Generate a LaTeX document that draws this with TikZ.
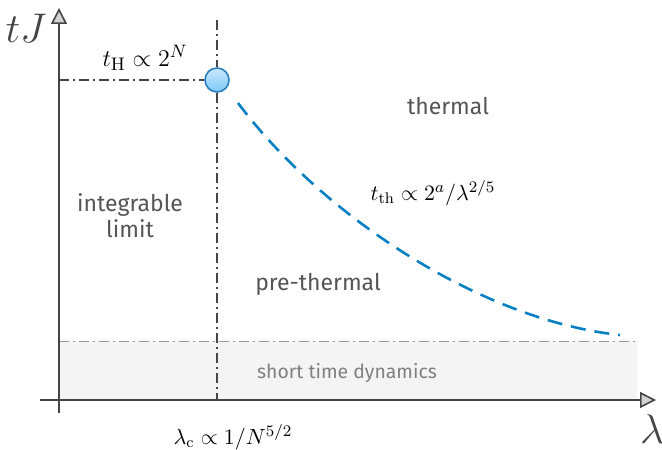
\documentclass[tikz,border=0pt]{standalone}
\usepackage{fontspec}
\setsansfont{Fira Sans}
\usetikzlibrary{arrows.meta}
\definecolor{axisgray}{HTML}{454545}
\definecolor{textgray}{HTML}{555555}
\definecolor{bandgray}{HTML}{F4F4F4}
\definecolor{curveblue}{HTML}{0A80C4}
\definecolor{ballblue}{HTML}{7CC8F8}
\definecolor{balledge}{HTML}{2C7FBF}
\begin{document}
\begin{tikzpicture}[x=0.5pt,y=-0.5pt,
    axis/.style={draw=axisgray, line width=0.8pt, -{Triangle[length=8pt,width=8pt,fill=gray!35]}},
    guide/.style={draw=axisgray, line width=0.8pt, dash pattern=on 5pt off 2pt on 1pt off 2pt},
    region/.style={font=\sffamily\fontsize{11.5}{13}\selectfont, text=textgray, align=center}]
    \useasboundingbox (0,0) rectangle (662,449);
    % short time band
    \fill[bandgray] (59,341) rectangle (637,400);
    \draw[gray!80, line width=0.5pt, dash pattern=on 5pt off 2pt on 1pt off 2pt] (59,341) -- (637,341);
    \node[region, font=\sffamily\fontsize{9.7}{11}\selectfont, text=gray] (short) at (347,373) {short time dynamics};
    % axes
    \coordinate (xstart) at (40,400);
    \coordinate (xend) at (656,400);
    \coordinate (ystart) at (59,413);
    \coordinate (yend) at (59,8);
    \draw[axis] (xstart) -- (xend);
    \draw[axis] (ystart) -- (yend);
    \node[text=axisgray, font=\huge] (tJ) at (26,28) {$tJ$};
    \node[text=axisgray, font=\huge] (lam) at (652,429) {$\lambda$};
    % critical point
    \coordinate (ctop) at (217,20);
    \coordinate (cbot) at (217,400);
    \coordinate (hleft) at (59,80);
    \node[circle, draw=balledge, line width=0.8pt, minimum size=12pt, inner sep=0pt,
          top color=ballblue!40, bottom color=ballblue] (crit) at (217,80) {};
    \draw[guide] (ctop) -- (crit);
    \draw[guide] (crit) -- (cbot);
    \draw[guide] (hleft) -- (crit);
    \node[font=\fontsize{13}{15}\selectfont] (tH) at (145,58) {$t_{\mathrm{H}}\propto 2^N$};
    \node[font=\fontsize{11}{13}\selectfont] (lamc) at (233,437) {$\lambda_{\mathrm{c}}\propto 1/N^{5/2}$};
    % crossover
    \draw[curveblue, line width=1.3pt, dash pattern=on 7.5pt off 4.5pt]
        (238,103) .. controls (322,215) and (480,320) .. (620,335);
    \node[font=\fontsize{11}{13}\selectfont] (tth) at (433,193) {$t_{\mathrm{th}}\propto 2^a/\lambda^{2/5}$};
    % regions
    \node[region] (thermal) at (448,106) {thermal};
    \node[region] (pre) at (318,284) {pre-thermal};
    \node[region] (integ) at (130,216) {integrable\\limit};
\end{tikzpicture}
\end{document}
